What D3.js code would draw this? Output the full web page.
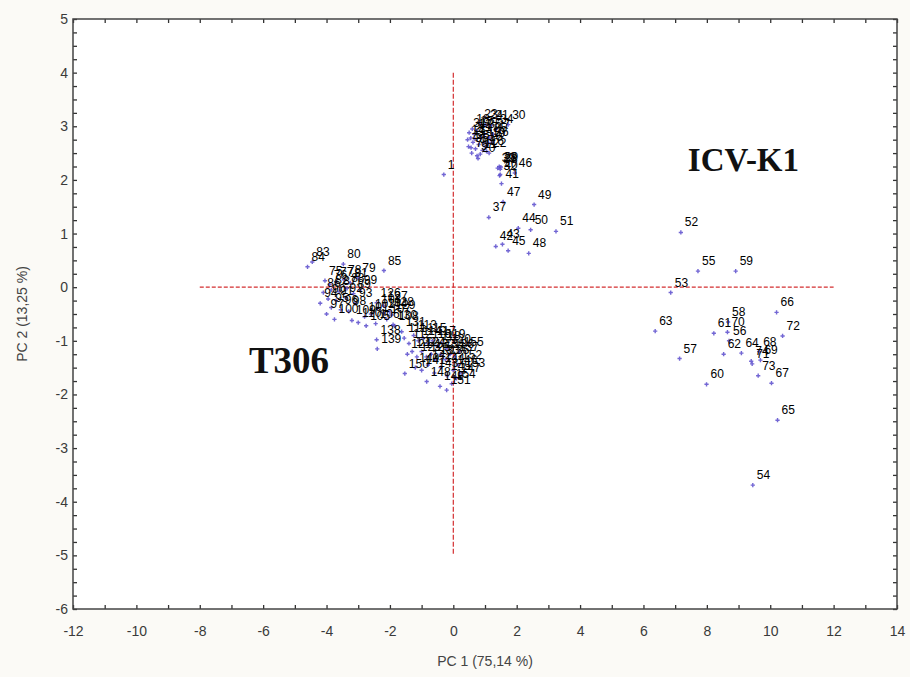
<!DOCTYPE html>
<html lang="en">
<head>
    <meta charset="UTF-8">
    <title>PCA scores</title>
    <script src="https://cdn.jsdelivr.net/npm/d3@7"></script>
    <style>
        body { margin: 0; background: #fbfaf6; }
    </style>
</head>
<body>
<div id="chart"></div>
<script>
// PCA score plot, samples of ICV-K1 and T306

// ICV-K1 samples
const icvLabels = [1,2,3,4,5,6,7,8,9,10,11,12,13,14,15,16,17,18,19,20,
    21,22,23,24,25,26,27,28,29,30,31,32,33,34,35,36,37,38,39,40,
    41,42,43,44,45,46,47,48,49,50,51,52,53,54,55,56,57,58,59,60,
    61,62,63,64,65,66,67,68,69,70,71,72,73,74];
const icvPC1 = [-0.30,0.55,0.62,0.48,0.70,0.80,0.58,0.92,0.75,1.00,0.85,0.66,0.95,0.45,0.72,1.05,0.88,0.60,1.10,0.78,
    1.20,1.13,0.85,1.02,1.15,1.20,1.25,1.45,1.50,1.73,0.50,1.46,0.68,1.35,0.98,0.56,1.12,1.48,1.40,1.48,
    1.52,1.34,1.55,2.05,1.73,1.94,1.57,2.38,2.55,2.44,3.24,7.18,6.86,9.45,7.72,8.70,7.14,8.67,8.91,7.99,
    8.22,8.53,6.37,9.09,10.23,10.20,10.04,9.65,9.69,8.65,9.43,10.39,9.62,9.40];
const icvPC2 = [2.10,2.78,2.70,2.62,2.58,2.66,2.50,2.55,2.45,2.62,2.48,2.85,2.70,2.75,2.92,2.53,2.80,2.95,2.68,2.40,
    3.02,2.50,3.05,3.03,2.78,2.70,2.85,2.25,2.24,3.03,2.88,2.08,2.76,2.95,2.85,2.60,1.30,2.20,2.22,2.10,
    1.93,0.76,0.80,1.10,0.68,2.13,1.59,0.63,1.54,1.07,1.04,1.02,-0.10,-3.69,0.30,-1.00,-1.33,-0.65,0.30,-1.81,
    -0.86,-1.25,-0.82,-1.23,-2.48,-0.47,-1.79,-1.20,-1.36,-0.84,-1.43,-0.91,-1.65,-1.38];

// T306 samples
const t306Labels = [75,76,77,78,79,80,81,82,83,84,85,86,87,88,89,90,91,92,93,94,
    95,96,97,98,99,100,101,102,103,104,105,106,107,108,109,110,111,112,113,114,
    115,116,117,118,119,120,121,122,123,124,125,126,127,128,129,130,131,132,133,134,
    135,136,137,138,139,140,141,142,143,144,145,146,147,148,149,150,151,152,153,154,155];
const t306PC1 = [-4.05,-3.90,-3.70,-3.45,-3.00,-3.47,-3.25,-3.85,-4.45,-4.60,-2.19,-4.10,-3.60,-3.35,-3.15,-3.95,-3.70,-3.40,-3.10,-4.20,
    -3.85,-3.55,-4.00,-3.30,-2.95,-3.75,-2.80,-2.60,-2.40,-2.20,-2.75,-2.45,-2.10,-1.85,-3.20,-3.00,-1.55,-1.40,-1.25,-1.10,
    -0.95,-0.80,-0.65,-0.50,-0.35,-0.20,-1.45,-1.30,-1.15,-1.00,-0.85,-2.42,-2.20,-2.00,-1.95,-1.90,-1.63,-0.70,-0.55,-0.40,
    -0.25,-0.10,0.05,-2.42,-2.40,-1.20,-1.00,-0.80,-0.60,-0.40,-0.20,0.00,0.10,-0.84,-0.42,-1.53,-0.21,0.15,0.25,-0.05,0.20];
const t306PC2 = [0.12,0.05,0.10,0.14,0.17,0.43,0.08,-0.05,0.47,0.38,0.31,-0.10,-0.08,-0.02,-0.12,-0.22,-0.25,-0.20,-0.30,-0.30,
    -0.38,-0.42,-0.50,-0.45,-0.05,-0.60,-0.55,-0.50,-0.40,-0.48,-0.72,-0.68,-0.60,-0.72,-0.62,-0.66,-0.95,-1.05,-0.90,-1.00,
    -0.95,-1.05,-1.00,-1.10,-1.05,-1.15,-1.25,-1.20,-1.30,-1.20,-1.30,-0.29,-0.35,-0.46,-0.52,-0.70,-0.83,-1.25,-1.35,-1.25,
    -1.35,-1.25,-1.30,-0.98,-1.15,-1.50,-1.55,-1.45,-1.60,-1.50,-1.65,-1.55,-1.70,-1.76,-1.85,-1.61,-1.92,-1.45,-1.60,-1.80,-1.20];

// axes
const xTicks = [-12,-10,-8,-6,-4,-2,0,2,4,6,8,10,12,14];
const yTicks = [-6,-5,-4,-3,-2,-1,0,1,2,3,4,5];
const xTitle = "PC 1 (75,14 %)";
const yTitle = "PC 2 (13,25 %)";

// group names and where they sit (data units)
const groupNames = ["ICV-K1", "T306"];
const groupPC1 = [7.4, -6.45];
const groupPC2 = [2.17, -1.6];
const groupSize = [33, 37];

const W = 910, H = 677;
const margin = {top: 19, right: 13, bottom: 68, left: 73};

const svg = d3.select("#chart").append("svg")
    .attr("width", W)
    .attr("height", H);

svg.append("rect")
    .attr("width", W)
    .attr("height", H)
    .attr("fill", "#fbfaf6");

const x = d3.scaleLinear().domain([-12, 14]).range([margin.left, W - margin.right]);
const y = d3.scaleLinear().domain([-6, 5]).range([H - margin.bottom, margin.top]);

// plot area
svg.append("rect")
    .attr("x", x(-12))
    .attr("y", y(5))
    .attr("width", x(14) - x(-12))
    .attr("height", y(-6) - y(5))
    .attr("fill", "#ffffff");

const tickStyle = g => {
    g.select(".domain").remove();
    g.selectAll("line").attr("stroke", "#333").attr("stroke-width", 1.3);
};

// inner ticks, all four sides
svg.append("g").attr("transform", `translate(0,${y(-6)})`)
    .call(d3.axisBottom(x).tickValues(d3.range(-12, 15)).tickSize(-4).tickFormat(""))
    .call(tickStyle);
svg.append("g").attr("transform", `translate(0,${y(5)})`)
    .call(d3.axisTop(x).tickValues(d3.range(-12, 15)).tickSize(-4).tickFormat(""))
    .call(tickStyle);
svg.append("g").attr("transform", `translate(${x(-12)},0)`)
    .call(d3.axisLeft(y).tickValues(d3.range(-6, 5.01, 0.25)).tickSize(-4).tickFormat(""))
    .call(tickStyle);
svg.append("g").attr("transform", `translate(${x(14)},0)`)
    .call(d3.axisRight(y).tickValues(d3.range(-6, 5.01, 0.25)).tickSize(-4).tickFormat(""))
    .call(tickStyle);

// tick labels (plain hyphen as minus, like the original)
const labelStyle = g => {
    g.select(".domain").remove();
    g.selectAll("text")
        .attr("fill", "#3a3a3a")
        .style("font-family", "'Liberation Sans', Arial, sans-serif")
        .style("font-size", "14px");
};
svg.append("g").attr("transform", `translate(0,${y(-6)})`)
    .call(d3.axisBottom(x).tickValues(xTicks).tickSize(0).tickPadding(17).tickFormat(d => String(d)))
    .call(labelStyle);
svg.append("g").attr("transform", `translate(${x(-12)},0)`)
    .call(d3.axisLeft(y).tickValues(yTicks).tickSize(0).tickPadding(5).tickFormat(d => String(d)))
    .call(labelStyle);

// frame
svg.append("rect")
    .attr("x", x(-12))
    .attr("y", y(5))
    .attr("width", x(14) - x(-12))
    .attr("height", y(-6) - y(5))
    .attr("fill", "none")
    .attr("stroke", "#444")
    .attr("stroke-width", 1.5);

// axis titles
svg.append("text")
    .attr("x", (x(-12) + x(14)) / 2)
    .attr("y", 666)
    .attr("text-anchor", "middle")
    .attr("fill", "#444")
    .style("font-family", "'Liberation Sans', Arial, sans-serif")
    .style("font-size", "14px")
    .text(xTitle);

svg.append("text")
    .attr("transform", `translate(27,${(y(5) + y(-6)) / 2}) rotate(-90)`)
    .attr("text-anchor", "middle")
    .attr("fill", "#444")
    .style("font-family", "'Liberation Sans', Arial, sans-serif")
    .style("font-size", "14px")
    .text(yTitle);

// reference lines through the origin
svg.append("line")
    .attr("x1", x(0)).attr("x2", x(0))
    .attr("y1", y(4)).attr("y2", y(-5))
    .attr("stroke", "#d42f31")
    .attr("stroke-width", 1.2)
    .attr("stroke-dasharray", "5,2");
svg.append("line")
    .attr("x1", x(-8)).attr("x2", x(12))
    .attr("y1", y(0)).attr("y2", y(0))
    .attr("stroke", "#d42f31")
    .attr("stroke-width", 1.2)
    .attr("stroke-dasharray", "4,2");

// points
const points = icvLabels.map((d, i) => ({id: d, pc1: icvPC1[i], pc2: icvPC2[i]}))
    .concat(t306Labels.map((d, i) => ({id: d, pc1: t306PC1[i], pc2: t306PC2[i]})));

const marker = d3.symbol().type(d3.symbolCross).size(10);

svg.append("g")
    .selectAll("path")
    .data(points)
    .enter()
    .append("path")
    .attr("d", marker)
    .attr("transform", d => `translate(${x(d.pc1)},${y(d.pc2)})`)
    .attr("fill", "#5a4ccc")
    .attr("opacity", 0.85);

svg.append("g")
    .selectAll("text")
    .data(points)
    .enter()
    .append("text")
    .attr("x", d => x(d.pc1) + 4)
    .attr("y", d => y(d.pc2) - 6)
    .attr("fill", "#000")
    .style("font-family", "'Liberation Sans', Arial, sans-serif")
    .style("font-size", "12px")
    .text(d => d.id);

// group names
svg.append("g")
    .selectAll("text")
    .data(groupNames)
    .enter()
    .append("text")
    .attr("x", (d, i) => x(groupPC1[i]))
    .attr("y", (d, i) => y(groupPC2[i]))
    .attr("fill", "#111")
    .style("font-family", "'Liberation Serif', 'Times New Roman', serif")
    .style("font-weight", "bold")
    .style("font-size", (d, i) => groupSize[i] + "px")
    .text(d => d);
</script>
</body>
</html>
